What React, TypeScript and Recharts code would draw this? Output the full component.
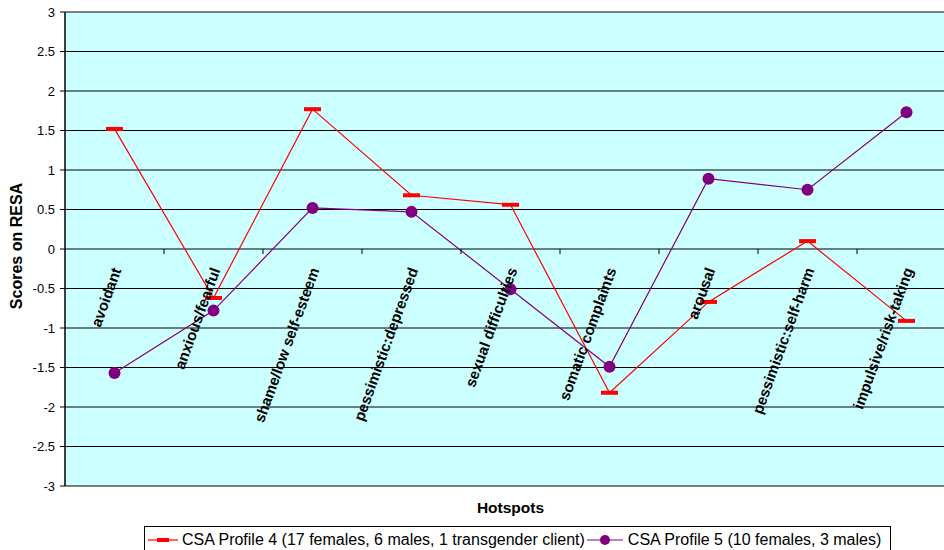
import { LineChart, Line, XAxis, YAxis, CartesianGrid, Legend, Label } from 'recharts';

const hotspots = [
  'avoidant',
  'anxious/fearful',
  'shame/low self-esteem',
  'pessimistic:depressed',
  'sexual difficulties',
  'somatic complaints',
  'arousal',
  'pessimistic:self-harm',
  'impulsive/risk-taking',
];
const profile4 = [1.52, -0.62, 1.77, 0.68, 0.56, -1.82, -0.67, 0.1, -0.91];
const profile5 = [-1.57, -0.78, 0.52, 0.47, -0.51, -1.49, 0.89, 0.75, 1.73];
const yTicks = [-3, -2.5, -2, -1.5, -1, -0.5, 0, 0.5, 1, 1.5, 2, 2.5, 3];

const P4_NAME = 'CSA Profile 4 (17 females, 6 males, 1 transgender client)';
const P5_NAME = 'CSA Profile 5 (10 females, 3 males)';

const data = hotspots.map((name, i) => ({ name, p4: profile4[i], p5: profile5[i] }));

const FONT = "'Liberation Sans', Arial, sans-serif";
const TOP = 12;
const PLOT_H = 474;
const ZERO_Y = TOP + PLOT_H / 2;
const BAND = 99;

const DashDot = (props: any) => {
  const { cx, cy } = props;
  if (cx == null || cy == null) return null;
  return <rect x={cx - 8.5} y={cy - 2} width={17} height={4} fill="#FF0000" />;
};

const CategoryTick = (props: any) => {
  const { x, payload, index } = props;
  const lx = x + 7;
  const ly = ZERO_Y + 21;
  return (
    <g>
      {index > 0 && (
        <line x1={x - BAND / 2} x2={x - BAND / 2} y1={ZERO_Y} y2={ZERO_Y + 5} stroke="#000" />
      )}
      <text
        x={lx}
        y={ly}
        transform={`rotate(-70 ${lx} ${ly})`}
        textAnchor="end"
        fontFamily={FONT}
        fontSize={15}
        fontWeight="bold"
        fill="#000"
      >
        {payload.value}
      </text>
    </g>
  );
};

const YTitle = () => (
  <text
    x={22}
    y={246}
    transform="rotate(-90 22 246)"
    textAnchor="middle"
    fontFamily={FONT}
    fontSize={16}
    fontWeight="bold"
    fill="#000"
  >
    Scores on RESA
  </text>
);

const LegendBox = () => (
  <div
    style={{
      boxSizing: 'border-box',
      marginLeft: 144,
      width: 747,
      height: 27,
      border: '1px solid #000',
      background: '#fff',
      display: 'flex',
      alignItems: 'center',
      fontFamily: FONT,
      fontSize: 16,
      color: '#000',
      whiteSpace: 'nowrap',
      paddingLeft: 3,
    }}
  >
    <svg width={30} height={10} style={{ marginRight: 4 }}>
      <line x1={0} x2={30} y1={5} y2={5} stroke="#FF0000" strokeWidth={1.2} />
      <rect x={9} y={3} width={12} height={4} fill="#FF0000" />
    </svg>
    <span>{P4_NAME}</span>
    <svg width={36} height={12} style={{ marginLeft: 2, marginRight: 5 }}>
      <line x1={0} x2={36} y1={6} y2={6} stroke="#800080" strokeWidth={1.2} />
      <circle cx={18} cy={6} r={5} fill="#800080" />
    </svg>
    <span>{P5_NAME}</span>
  </div>
);

export default function App() {
  return (
    <div style={{ position: 'absolute', left: 0, top: 0, width: 944, height: 550, overflow: 'hidden', background: '#fff' }}>
      <LineChart
        width={956}
        height={550}
        data={data}
        margin={{ top: TOP, right: 0, left: 0, bottom: 0 }}
      >
        <CartesianGrid vertical={false} stroke="#000" fill="#CCFFFF" fillOpacity={1} />
        <XAxis
          dataKey="name"
          height={37}
          axisLine={false}
          tickLine={false}
          interval={0}
          padding={{ left: BAND / 2, right: BAND / 2 }}
          tick={<CategoryTick />}
        >
          <Label
            value="Hotspots"
            position="insideBottom"
            offset={10}
            style={{ fontFamily: FONT, fontSize: 15.5, fontWeight: 'bold', fill: '#000' }}
          />
        </XAxis>
        <YAxis
          width={65}
          domain={[-3, 3]}
          ticks={yTicks}
          interval={0}
          allowDecimals
          axisLine={{ stroke: '#000', strokeWidth: 1.5 }}
          tickLine={{ stroke: '#000' }}
          tickSize={5}
          tickMargin={5}
          tick={{ fontFamily: FONT, fontSize: 13, fill: '#000' }}
        >
          <Label content={<YTitle />} />
        </YAxis>
        <Legend
          verticalAlign="bottom"
          content={<LegendBox />}
          wrapperStyle={{ left: 0, bottom: -3, width: 956 }}
        />
        <Line
          type="linear"
          dataKey="p4"
          name={P4_NAME}
          stroke="#FF0000"
          strokeWidth={1.2}
          dot={<DashDot />}
          activeDot={false}
          isAnimationActive={false}
        />
        <Line
          type="linear"
          dataKey="p5"
          name={P5_NAME}
          stroke="#800080"
          strokeWidth={1.2}
          dot={{ r: 6, fill: '#800080', stroke: '#800080', strokeWidth: 0 }}
          activeDot={false}
          isAnimationActive={false}
        />
      </LineChart>
    </div>
  );
}
